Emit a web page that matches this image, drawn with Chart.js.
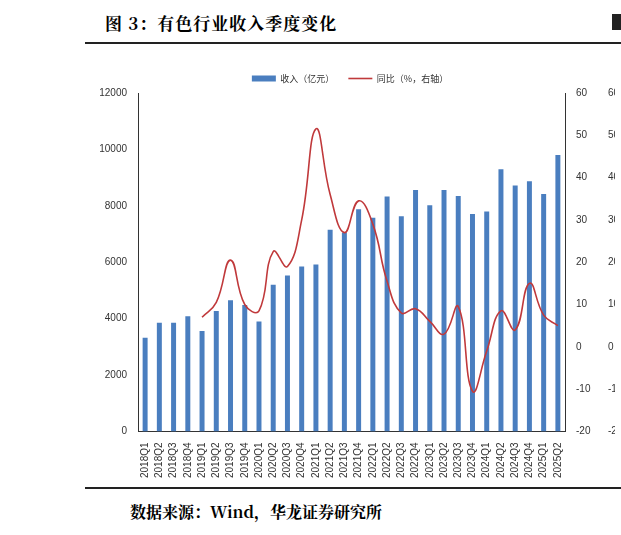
<!DOCTYPE html><html><head><meta charset="utf-8">
<script src="https://cdn.jsdelivr.net/npm/chart.js"></script>
<style>
body{margin:0;width:621px;height:535px;background:#fff;position:relative;overflow:hidden;font-family:"Noto Sans CJK SC";}
#t{position:absolute;left:105px;top:10px;font-size:17px;font-weight:bold;font-family:"Noto Serif CJK SC","Noto Sans CJK SC";letter-spacing:1px}
#sq{position:absolute;left:612px;top:14px;width:12px;height:16px;background:#222}
.ln{position:absolute;left:85px;width:536px;height:1.5px;background:#222}
#s{position:absolute;left:130px;top:500px;font-size:16px;font-weight:bold;font-family:"Noto Serif CJK SC","Noto Sans CJK SC"}
#w{position:absolute;left:85px;top:60px;width:536px;height:425px}
</style></head><body>
<div id="t">图 3：有色行业收入季度变化</div><div id="sq"></div>
<div class="ln" style="top:42px"></div><div class="ln" style="top:487px"></div>
<div id="s">数据来源：Wind，华龙证券研究所</div>
<div id="w"><canvas id="c"></canvas></div>
<script>
const categories=["2018Q1","2018Q2","2018Q3","2018Q4","2019Q1","2019Q2","2019Q3","2019Q4","2020Q1","2020Q2","2020Q3","2020Q4","2021Q1","2021Q2","2021Q3","2021Q4","2022Q1","2022Q2","2022Q3","2022Q4","2023Q1","2023Q2","2023Q3","2023Q4","2024Q1","2024Q2","2024Q3","2024Q4","2025Q1","2025Q2"];
const revenue=[3320,3850,3850,4080,3560,4270,4650,4480,3900,5200,5530,5850,5920,7150,7050,7880,7580,8330,7630,8560,8020,8560,8350,7710,7800,9300,8720,8870,8420,9800];
const yoy=[null,null,null,null,7,10.5,20.5,10,8.5,22.5,19,30,51.5,36,27,34.5,29,15.5,8,9,6,3,9.5,-10.5,-1,8.5,4,15,7.5,5];
const tk={color:'#333',font:{size:10,family:'Liberation Sans'}};
new Chart(document.getElementById('c'),{data:{labels:categories,datasets:[
{type:'bar',label:'收入（亿元）',data:revenue,backgroundColor:'#4a7ebf',yAxisID:'y',barPercentage:0.35,categoryPercentage:1,order:2,pointStyle:'rect'},
{type:'line',label:'同比（%，右轴）',data:yoy,borderColor:'#c0393b',backgroundColor:'#c0393b',borderWidth:1.6,pointRadius:0,tension:0.45,yAxisID:'y1',order:1,pointStyle:'line'}]},
options:{responsive:true,maintainAspectRatio:false,animation:false,
layout:{padding:{left:0,right:6,top:0,bottom:4}},
plugins:{legend:{position:'top',labels:{usePointStyle:true,pointStyleWidth:24,boxHeight:6,sort:(a,b)=>a.datasetIndex-b.datasetIndex,font:{size:9,family:'Noto Sans CJK SC'},color:'#333',padding:14}},tooltip:{enabled:false}},
scales:{x:{grid:{display:false,drawTicks:true},border:{color:'#333'},ticks:{...tk,maxRotation:90,minRotation:90,autoSkip:false}},
y:{min:0,max:12000,ticks:{...tk,stepSize:2000,callback:v=>String(v)},grid:{display:false},border:{color:'#333'},afterFit:s=>{s.width=53}},
y1:{position:'right',min:-20,max:60,ticks:{...tk,stepSize:10},grid:{display:false},border:{color:'#333'},afterFit:s=>{s.width=32}},
y2:{position:'right',min:-20,max:60,ticks:{...tk,stepSize:10},grid:{display:false},border:{display:false},afterFit:s=>{s.width=18}}}}});
</script></body></html>
